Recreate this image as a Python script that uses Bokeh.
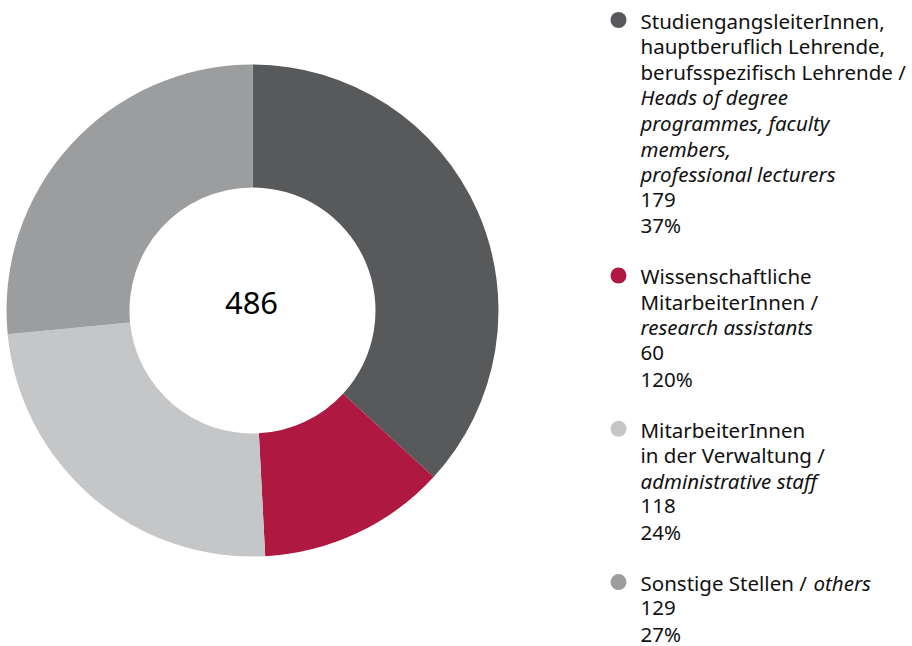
import math
from bokeh.plotting import figure
from bokeh.models import ColumnDataSource, Range1d
from bokeh.core.properties import value
from bokeh.embed import file_html
from bokeh.resources import INLINE

# ---- data ----
categories_de = [
    ["StudiengangsleiterInnen,", "hauptberuflich Lehrende,", "berufsspezifisch Lehrende /"],
    ["Wissenschaftliche", "MitarbeiterInnen /"],
    ["MitarbeiterInnen", "in der Verwaltung /"],
    ["Sonstige Stellen /"],
]
categories_en = [
    ["Heads of degree", "programmes, faculty", "members,", "professional lecturers"],
    ["research assistants"],
    ["administrative staff"],
    ["others"],
]
en_inline = [False, False, False, True]
values = [179, 60, 118, 129]
percent_labels = ["37%", "120%", "24%", "27%"]
colors = ["#58595B", "#AE1841", "#C5C6C8", "#9C9D9F"]
total = sum(values)

W, H = 912, 646
FONT = "Noto Sans"

def sx(x):
    return x

def sy(y):
    return H - y

p = figure(width=W, height=H, output_backend="svg", toolbar_location=None,
           x_range=Range1d(0, W), y_range=Range1d(0, H), min_border=0)
p.axis.visible = False
p.grid.visible = False
p.outline_line_color = None
p.background_fill_color = "white"
p.border_fill_color = "white"

# ---- donut ----
starts, ends = [], []
cum = 0
for v in values:
    a0 = cum / total
    cum += v
    a1 = cum / total
    starts.append(math.pi / 2 - a0 * 2 * math.pi)
    ends.append(math.pi / 2 - a1 * 2 * math.pi)

src = ColumnDataSource(dict(start=starts, end=ends, color=colors))
p.annular_wedge(x=sx(252), y=sy(310), inner_radius=123, outer_radius=246,
                inner_radius_units="screen", outer_radius_units="screen",
                start_angle="start", end_angle="end", direction="clock",
                fill_color="color", line_color=None, source=src)

p.text(x=[sx(251)], y=[sy(302)], text=[str(total)], text_align="center",
       text_baseline="alphabetic", text_font=value(FONT), text_font_size="31px",
       text_color="#000000")

# ---- legend ----
LH = 25.55
base0 = 20.3
tx, ty, tt, tst = [], [], [], []
cx, cy, cc = [], [], []
line = 0
for i in range(len(values)):
    b = base0 + line * LH
    cx.append(sx(618)); cy.append(sy(b - 0.8)); cc.append(colors[i])
    for j, s in enumerate(categories_de[i]):
        tx.append(sx(640)); ty.append(sy(base0 + line * LH)); tt.append(s); tst.append("normal")
        if not (en_inline[i] and j == len(categories_de[i]) - 1):
            line += 1
    if en_inline[i]:
        tx.append(sx(813)); ty.append(sy(base0 + line * LH)); tt.append(categories_en[i][0]); tst.append("italic")
        line += 1
    else:
        for s in categories_en[i]:
            tx.append(sx(640)); ty.append(sy(base0 + line * LH)); tt.append(s); tst.append("italic")
            line += 1
    for s in [str(values[i]), percent_labels[i]]:
        tx.append(sx(640)); ty.append(sy(base0 + line * LH)); tt.append(s); tst.append("normal")
        line += 1
    line += 1

lsrc = ColumnDataSource(dict(x=tx, y=ty, text=tt, style=tst))
p.text(x="x", y="y", text="text", text_font_style="style", source=lsrc,
       text_font=value(FONT), text_font_size="20.5px", text_color="#111111",
       text_baseline="alphabetic", text_align="left")

csrc = ColumnDataSource(dict(x=cx, y=cy, color=cc))
p.scatter(x="x", y="y", size=16, fill_color="color", line_color=None, source=csrc)

open("out.html", "w").write(file_html(p, INLINE))
